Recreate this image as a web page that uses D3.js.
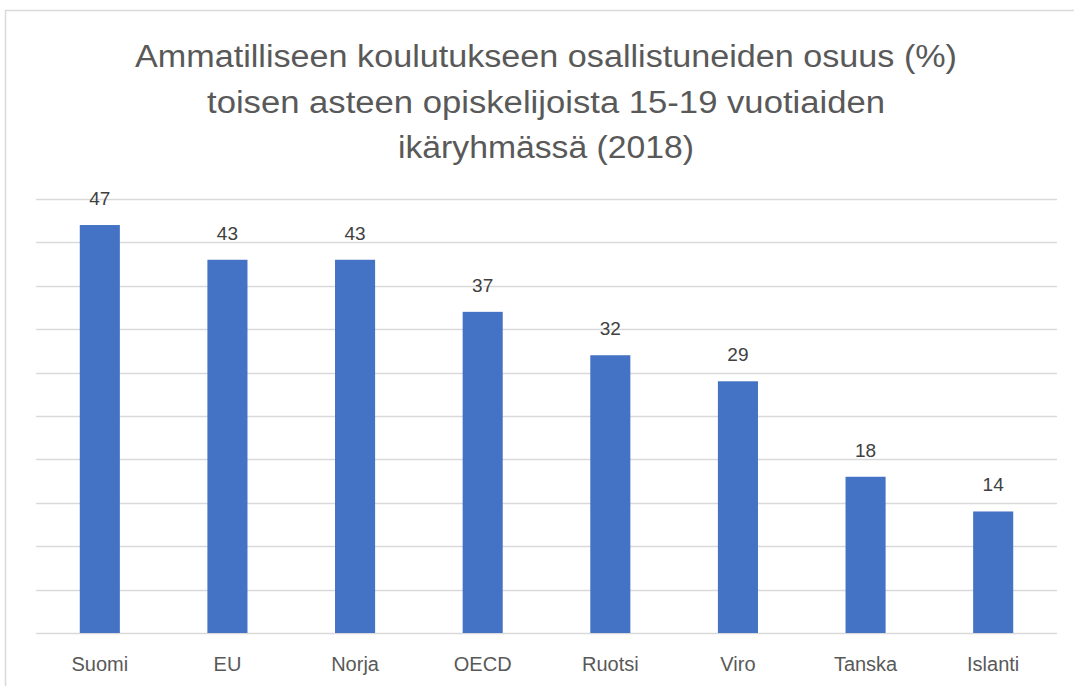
<!DOCTYPE html>
<html>
<head>
<meta charset="utf-8">
<script src="https://cdn.jsdelivr.net/npm/d3@7"></script>
<style>
  body { margin: 0; background: #fff; }
  svg { display: block; }
</style>
</head>
<body>
<div id="chart"></div>
<script>
// chart data
var countries = ["Suomi", "EU", "Norja", "OECD", "Ruotsi", "Viro", "Tanska", "Islanti"];
var shares = [47, 43, 43, 37, 32, 29, 18, 14];
var gridTicks = [0, 5, 10, 15, 20, 25, 30, 35, 40, 45, 50];
var titleLines = [
  "Ammatilliseen koulutukseen osallistuneiden osuus (%)",
  "toisen asteen opiskelijoista 15-19 vuotiaiden",
  "ikäryhmässä (2018)"
];

var width = 1074, height = 686;
var svg = d3.select("#chart").append("svg")
  .attr("width", width)
  .attr("height", height);

// outer frame of the chart area
svg.append("rect")
  .attr("x", 5.5).attr("y", 10.5)
  .attr("width", 1080).attr("height", 700)
  .attr("fill", "none")
  .attr("stroke", "#d9d9d9")
  .attr("stroke-width", 1.5);

var x = d3.scaleBand()
  .domain(countries)
  .range([36, 1057])
  .paddingInner(0.686)
  .paddingOuter(0.343);

var y = d3.scaleLinear()
  .domain([0, 50])
  .range([633, 199]);

// gridlines
svg.append("g")
  .selectAll("line")
  .data(gridTicks)
  .join("line")
  .attr("x1", 36).attr("x2", 1057)
  .attr("y1", function(d) { return Math.round(y(d)) + 0.5; })
  .attr("y2", function(d) { return Math.round(y(d)) + 0.5; })
  .attr("stroke", "#d9d9d9")
  .attr("stroke-width", 1.5);

// bars
svg.append("g")
  .selectAll("rect")
  .data(shares)
  .join("rect")
  .attr("x", function(d, i) { return x(countries[i]); })
  .attr("width", x.bandwidth())
  .attr("y", function(d) { return y(d); })
  .attr("height", function(d) { return y(0) - y(d); })
  .attr("fill", "#4472c4");

// value labels
svg.append("g")
  .selectAll("text")
  .data(shares)
  .join("text")
  .attr("x", function(d, i) { return x(countries[i]) + x.bandwidth() / 2; })
  .attr("y", function(d) { return y(d) - 20; })
  .attr("text-anchor", "middle")
  .attr("font-family", "'Liberation Sans', Arial, sans-serif")
  .attr("font-size", 19)
  .attr("fill", "#404040")
  .text(function(d) { return d; });

// category axis
var xAxis = svg.append("g")
  .attr("transform", "translate(0,633)")
  .call(d3.axisBottom(x).tickSize(0).tickPadding(24));
xAxis.select(".domain").remove();
xAxis.selectAll("text")
  .attr("font-family", "'Liberation Sans', Arial, sans-serif")
  .attr("font-size", 20)
  .attr("fill", "#595959");

// title
var titleWidths = [822, 678, 296];
var titleBase = [67, 113, 158];
svg.append("g")
  .selectAll("text")
  .data(titleLines)
  .join("text")
  .attr("x", 546)
  .attr("y", function(d, i) { return titleBase[i]; })
  .attr("text-anchor", "middle")
  .attr("font-family", "'Liberation Sans', Arial, sans-serif")
  .attr("font-size", 31)
  .attr("fill", "#595959")
  .attr("textLength", function(d, i) { return titleWidths[i]; })
  .attr("lengthAdjust", "spacingAndGlyphs")
  .text(function(d) { return d; });
</script>
</body>
</html>
